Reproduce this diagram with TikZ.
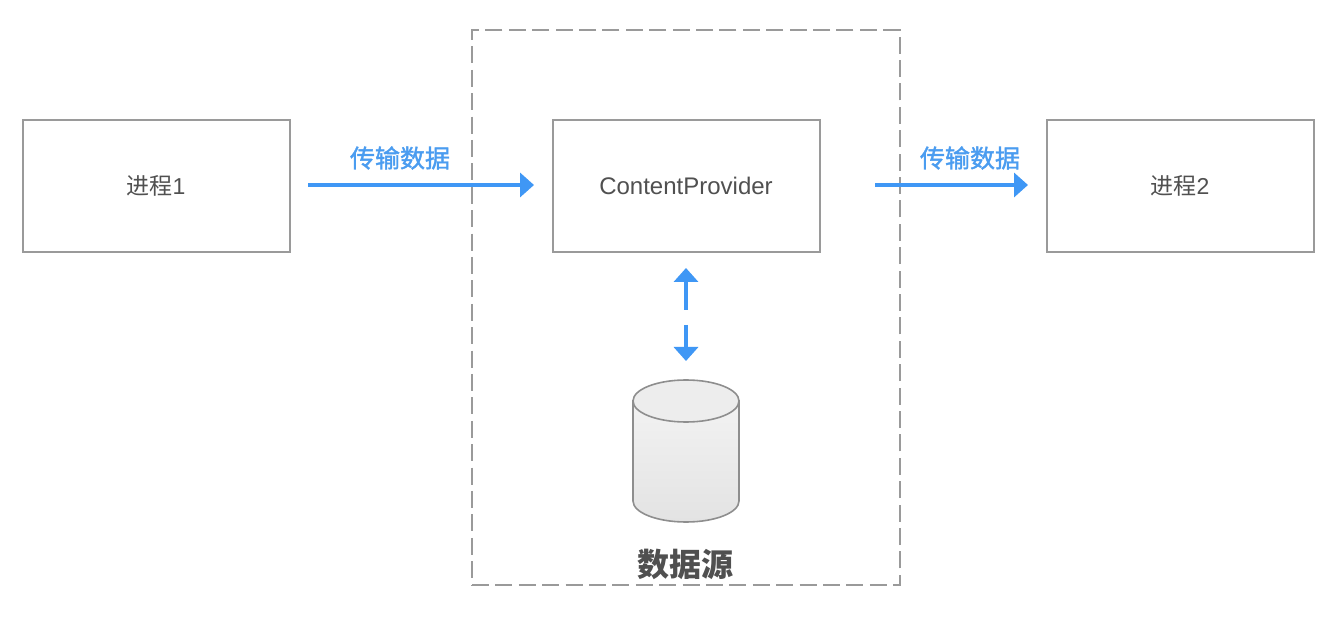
\documentclass[tikz,border=0pt]{standalone}
\usepackage{fontspec}
\setmainfont{Liberation Sans}
\newfontfamily\cjk{Noto Sans CJK SC}
\newfontfamily\cjkmed[FakeBold=1.5]{Noto Sans CJK SC}
\usetikzlibrary{arrows.meta,shapes.geometric}
\definecolor{flowblue}{HTML}{3F97F5}
\definecolor{labelblue}{HTML}{4A9CF0}
\definecolor{edgegray}{HTML}{9A9A9A}
\definecolor{cylgray}{HTML}{8E8E8E}
\definecolor{txt}{HTML}{505050}
\tikzset{
  proc/.style={draw=edgegray,line width=2pt,minimum width=267pt,minimum height=132pt,inner sep=0pt,text=txt,font=\fontsize{23}{27}\selectfont},
  flow/.style={draw=flowblue,line width=3.6pt,-{Triangle[length=14pt,width=24pt]}},
  flowlabel/.style={text=labelblue,font=\cjkmed\fontsize{25}{30}\selectfont,inner sep=0pt},
  dbtitle/.style={text=txt,font=\cjk\bfseries\fontsize{32}{38}\selectfont,inner sep=0pt},
}
\begin{document}
\begin{tikzpicture}[x=1pt,y=-1pt]
\useasboundingbox (0,0) rectangle (1342,620);
\fill[white] (0,0) rectangle (1342,620);
\node[draw=edgegray,line width=2pt,dash pattern=on 17pt off 6.4pt,minimum width=428pt,minimum height=555pt,inner sep=0pt] (src) at (686,307.5) {};
\node[proc] (p1) at (156,186) {{\cjk 进程}1};
\node[proc] (cp) at (686,186) {\fontsize{24}{28}\selectfont ContentProvider};
\node[proc] (p2) at (1180,186) {{\cjk 进程}2};
% cylinder
\shade[top color=white!95!black,bottom color=white!89!black,draw=cylgray,line width=1.6pt]
  (633,401) -- (633,501) arc[start angle=180,end angle=360,x radius=53pt,y radius=21pt] -- (739,401) -- cycle;
\filldraw[fill=white!93!black,draw=cylgray,line width=1.6pt] (686,401) ellipse[x radius=53pt,y radius=21pt];
\coordinate (a1) at (308,185);
\coordinate (a2) at (534,185);
\coordinate (b1) at (875,185);
\coordinate (b2) at (1028,185);
\coordinate (u1) at (686,310);
\coordinate (u2) at (686,268);
\coordinate (d1) at (686,325);
\coordinate (d2) at (686,361);
\draw[flow] (a1) -- (a2);
\draw[flow] (b1) -- (b2);
\draw[flow] (u1) -- (u2);
\draw[flow] (d1) -- (d2);
\node[flowlabel] (l1) at (400,158) {传输数据};
\node[flowlabel] (l2) at (970,158) {传输数据};
\node[dbtitle] (db) at (685,564) {数据源};
\end{tikzpicture}
\end{document}
